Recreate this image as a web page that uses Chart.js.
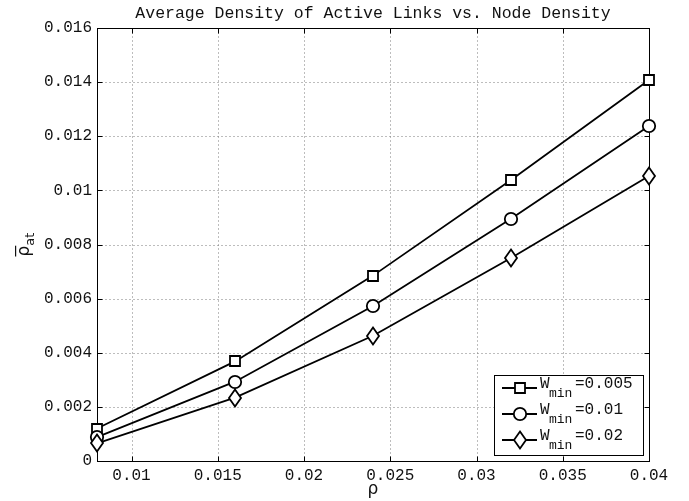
<!DOCTYPE html>
<html>
<head>
<meta charset="utf-8">
<script src="https://cdn.jsdelivr.net/npm/chart.js@4.4.1/dist/chart.umd.min.js"></script>
<style>
  html, body { margin: 0; padding: 0; background: #fff; }
  #wrap { width: 689px; height: 501px; position: relative; }
</style>
</head>
<body>
<div id="wrap"><canvas id="densityChart"></canvas></div>
<script>
// node density on the x axis
const rho = [0.008, 0.016, 0.024, 0.032, 0.04];

// average density of active links, one series per W_min
const wmin005 = [0.00120, 0.00368, 0.00685, 0.01038, 0.01408];
const wmin01 = [0.00088, 0.00293, 0.00573, 0.00895, 0.01238];
const wmin02 = [0.00065, 0.00234, 0.00463, 0.00750, 0.01053];

const seriesLabels = ['=0.005', '=0.01', '=0.02'];
const seriesMarkers = ['square', 'circle', 'diamond'];

const xTicks = [0.01, 0.015, 0.02, 0.025, 0.03, 0.035, 0.04];
const xTickLabels = ['0.01', '0.015', '0.02', '0.025', '0.03', '0.035', '0.04'];
const yTicks = [0, 0.002, 0.004, 0.006, 0.008, 0.01, 0.012, 0.014, 0.016];
const yTickLabels = ['0', '0.002', '0.004', '0.006', '0.008', '0.01', '0.012', '0.014', '0.016'];

const mono = '"Liberation Mono", "Courier New", monospace';
const sans = '"DejaVu Sans", Arial, sans-serif';
const ink = '#000';

function drawMarker(ctx, kind, x, y) {
    x = Math.round(x);
    y = Math.round(y);
    ctx.save();
    ctx.fillStyle = '#fff';
    ctx.strokeStyle = ink;
    ctx.lineWidth = 1.8;
    ctx.beginPath();
    if (kind === 'square') {
        ctx.rect(x - 5, y - 5, 10, 10);
    } else if (kind === 'circle') {
        ctx.arc(x, y, 6.2, 0, Math.PI * 2);
    } else {
        ctx.moveTo(x, y - 8.5);
        ctx.lineTo(x + 6, y);
        ctx.lineTo(x, y + 8.5);
        ctx.lineTo(x - 6, y);
        ctx.closePath();
    }
    ctx.fill();
    ctx.stroke();
    ctx.restore();
}

function series(values, label, marker) {
    return {
        label: label,
        marker: marker,
        data: rho.map((x, i) => ({ x: x, y: values[i] })),
        borderColor: ink,
        borderWidth: 1.8,
        pointRadius: 0,
        pointHoverRadius: 0,
        fill: false,
        tension: 0,
        clip: false
    };
}

// dotted grid, frame and inward ticks on all four sides
const framePlugin = {
    id: 'frame',
    beforeDatasetsDraw(chart) {
        const { ctx, chartArea: a, scales } = chart;
        const L = Math.round(a.left) + 0.5, R = Math.round(a.right) + 0.5;
        const T = Math.round(a.top) + 0.5, B = Math.round(a.bottom) + 0.5;
        ctx.save();

        ctx.strokeStyle = '#7a7a7a';
        ctx.lineWidth = 1;
        ctx.setLineDash([1, 3]);
        ctx.beginPath();
        xTicks.forEach(v => {
            const px = Math.round(scales.x.getPixelForValue(v)) + 0.5;
            ctx.moveTo(px, B); ctx.lineTo(px, T);
        });
        yTicks.forEach(v => {
            const py = Math.round(scales.y.getPixelForValue(v)) + 0.5;
            ctx.moveTo(L, py); ctx.lineTo(R, py);
        });
        ctx.stroke();
        ctx.setLineDash([]);

        ctx.strokeStyle = ink;
        ctx.strokeRect(L, T, R - L, B - T);
        ctx.beginPath();
        xTicks.forEach(v => {
            const px = Math.round(scales.x.getPixelForValue(v)) + 0.5;
            ctx.moveTo(px, B); ctx.lineTo(px, B - 5);
            ctx.moveTo(px, T); ctx.lineTo(px, T + 5);
        });
        yTicks.forEach(v => {
            const py = Math.round(scales.y.getPixelForValue(v)) + 0.5;
            ctx.moveTo(L, py); ctx.lineTo(L + 5, py);
            ctx.moveTo(R, py); ctx.lineTo(R - 5, py);
        });
        ctx.stroke();
        ctx.restore();
    },
    // open markers on top of the lines, at the positions the line elements got
    afterDatasetsDraw(chart) {
        const { ctx } = chart;
        chart.data.datasets.forEach((ds, i) => {
            chart.getDatasetMeta(i).data.forEach(pt => drawMarker(ctx, ds.marker, pt.x, pt.y));
        });
    }
};

// title, axis labels and the boxed legend
const textPlugin = {
    id: 'texts',
    afterDraw(chart) {
        const { ctx, chartArea: a } = chart;
        const cx = (a.left + a.right) / 2;
        ctx.save();
        ctx.fillStyle = '#111';
        ctx.textBaseline = 'alphabetic';

        ctx.font = '16.5px ' + mono;
        ctx.textAlign = 'center';
        ctx.fillText('Average Density of Active Links vs. Node Density', cx, 18);

        ctx.font = '17px ' + sans;
        ctx.fillText('ρ', cx, 494);

        // y label: rho with overbar and subscript "at"
        ctx.save();
        ctx.translate(29, (a.top + a.bottom) / 2);
        ctx.rotate(-Math.PI / 2);
        ctx.font = '17px ' + sans;
        ctx.textAlign = 'left';
        const rw = ctx.measureText('ρ').width;
        ctx.fillText('ρ', -12, 0);
        ctx.fillRect(-12, -14, rw, 1.2);
        ctx.font = '13px ' + sans;
        ctx.fillText('at', -12 + rw, 5);
        ctx.restore();

        // legend box
        const lx = 494, ly = 375, lw = 149, lh = 80;
        ctx.fillStyle = '#fff';
        ctx.fillRect(lx, ly, lw, lh);
        ctx.strokeStyle = ink;
        ctx.lineWidth = 1;
        ctx.strokeRect(lx + 0.5, ly + 0.5, lw, lh);
        ctx.fillStyle = '#111';
        ctx.textAlign = 'left';
        chart.data.datasets.forEach((ds, i) => {
            const y = 388 + i * 26;
            ctx.lineWidth = 1.8;
            ctx.beginPath();
            ctx.moveTo(502, y);
            ctx.lineTo(537, y);
            ctx.stroke();
            drawMarker(ctx, ds.marker, 519.5, y);
            ctx.font = '16px ' + mono;
            ctx.fillText('W', 540, y);
            ctx.font = '13px ' + mono;
            ctx.fillText('min', 549, y + 9);
            ctx.font = '16px ' + mono;
            ctx.fillText(ds.label, 575, y);
        });
        ctx.restore();
    }
};

const chart = new Chart(document.getElementById('densityChart'), {
    type: 'line',
    data: {
        datasets: [
            series(wmin005, seriesLabels[0], seriesMarkers[0]),
            series(wmin01, seriesLabels[1], seriesMarkers[1]),
            series(wmin02, seriesLabels[2], seriesMarkers[2])
        ]
    },
    options: {
        responsive: true,
        maintainAspectRatio: false,
        animation: false,
        layout: { padding: { left: 0, top: 28, right: 40, bottom: 0 } },
        plugins: {
            legend: { display: false },
            tooltip: { enabled: false },
            title: { display: false }
        },
        scales: {
            x: {
                type: 'linear',
                min: 0.008,
                max: 0.04,
                afterBuildTicks: scale => { scale.ticks = xTicks.map(v => ({ value: v })); },
                afterFit: scale => { scale.height = 40; },
                grid: { display: false, drawTicks: false },
                border: { display: false },
                ticks: {
                    padding: 5,
                    color: '#111',
                    font: { family: mono, size: 16 },
                    maxRotation: 0,
                    callback: (v, i) => xTickLabels[i]
                }
            },
            y: {
                type: 'linear',
                min: 0,
                max: 0.016,
                afterBuildTicks: scale => { scale.ticks = yTicks.map(v => ({ value: v })); },
                afterFit: scale => { scale.width = 97; },
                grid: { display: false, drawTicks: false },
                border: { display: false },
                ticks: {
                    padding: 5,
                    color: '#111',
                    font: { family: mono, size: 16 },
                    callback: (v, i) => yTickLabels[i]
                }
            }
        }
    },
    plugins: [framePlugin, textPlugin]
});
</script>
</body>
</html>
